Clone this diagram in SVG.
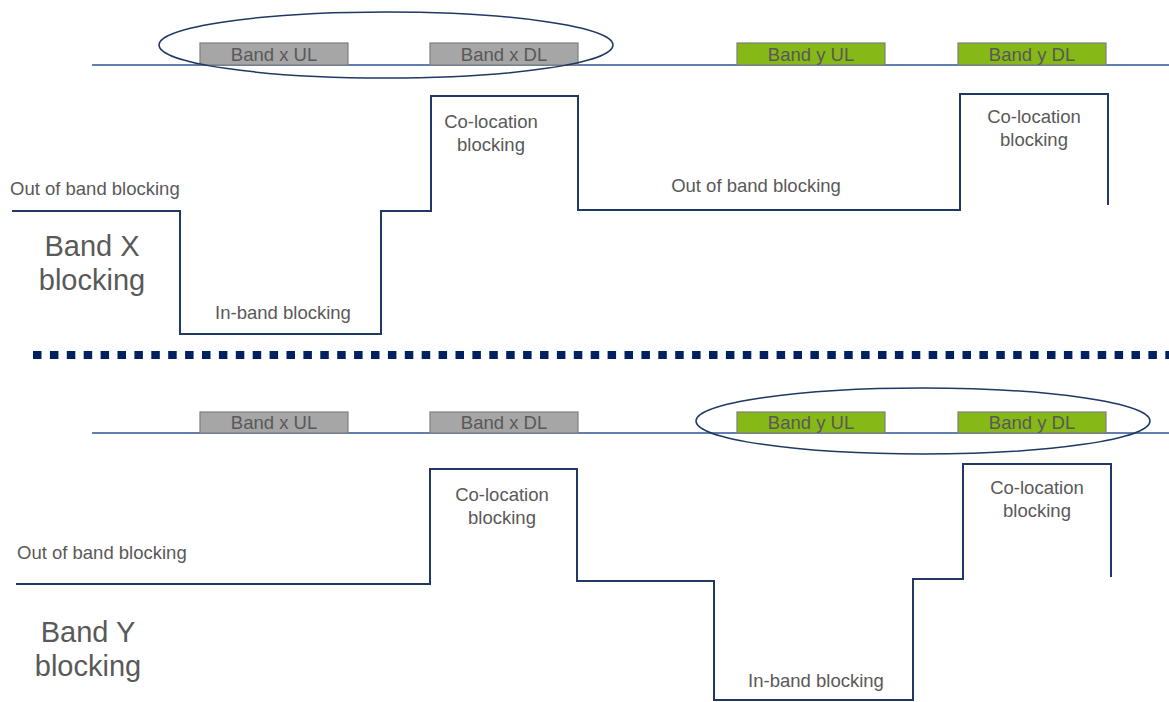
<svg xmlns="http://www.w3.org/2000/svg" width="1169" height="702" viewBox="0 0 1169 702">
  <style>
    .axis { stroke: #2f5597; stroke-width: 1.6; fill: none; }
    .step { stroke: #203864; stroke-width: 2; fill: none; stroke-linejoin: miter; }
    .ring { stroke: #1f3864; stroke-width: 1.5; fill: none; }
    .band-x { fill: #a6a6a6; stroke: #7f7f7f; stroke-width: 1.2; }
    .band-y { fill: #86b817; stroke: #7f7f7f; stroke-width: 1.2; }
    .lbl { font-family: "Liberation Sans", Arial, sans-serif; font-size: 18.5px; fill: #595959; }
    .big { font-family: "Liberation Sans", Arial, sans-serif; font-size: 29px; fill: #595959; text-anchor: middle; }
    .mid { text-anchor: middle; }
    .sep { stroke: #002060; stroke-width: 8; stroke-dasharray: 8.5 8.4; fill: none; }
  </style>

  <!-- Upper panel: Band X blocking -->
  <g id="panel-x">
    <g id="axis-x"><line class="axis" x1="92" y1="65" x2="1169" y2="65"/></g>
    <g id="band-x-ul"><rect class="band-x" x="200" y="43" width="148" height="22"/><text class="lbl mid" x="274" y="61">Band x UL</text></g>
    <g id="band-x-dl"><rect class="band-x" x="430" y="43" width="148" height="22"/><text class="lbl mid" x="504" y="61">Band x DL</text></g>
    <g id="band-y-ul-top"><rect class="band-y" x="737" y="43" width="148" height="22"/><text class="lbl mid" x="811" y="61">Band y UL</text></g>
    <g id="band-y-dl-top"><rect class="band-y" x="958" y="43" width="148" height="22"/><text class="lbl mid" x="1032" y="61">Band y DL</text></g>
    <g id="ring-x"><ellipse class="ring" cx="386" cy="45" rx="227" ry="33"/></g>
    <g id="title-x">
      <text class="big" x="92" y="256">Band X</text>
      <text class="big" x="92" y="290">blocking</text>
    </g>
    <g id="labels-x">
      <text class="lbl" x="10" y="195">Out of band blocking</text>
      <text class="lbl mid" x="283" y="319">In-band blocking</text>
      <text class="lbl mid" x="491" y="128">Co-location</text>
      <text class="lbl mid" x="491" y="151">blocking</text>
      <text class="lbl mid" x="756" y="192">Out of band blocking</text>
      <text class="lbl mid" x="1034" y="123">Co-location</text>
      <text class="lbl mid" x="1034" y="146">blocking</text>
    </g>
  </g>

  <!-- Divider between panels -->
  <g id="divider"><line class="sep" x1="33" y1="355" x2="1169" y2="355"/></g>

  <!-- Lower panel: Band Y blocking -->
  <g id="panel-y">
    <g id="axis-y"><line class="axis" x1="92" y1="433" x2="1169" y2="433"/></g>
    <g id="band-x-ul-bottom"><rect class="band-x" x="200" y="412" width="148" height="21"/><text class="lbl mid" x="274" y="429">Band x UL</text></g>
    <g id="band-x-dl-bottom"><rect class="band-x" x="430" y="412" width="148" height="21"/><text class="lbl mid" x="504" y="429">Band x DL</text></g>
    <g id="band-y-ul"><rect class="band-y" x="737" y="412" width="148" height="21"/><text class="lbl mid" x="811" y="429">Band y UL</text></g>
    <g id="band-y-dl"><rect class="band-y" x="958" y="412" width="148" height="21"/><text class="lbl mid" x="1032" y="429">Band y DL</text></g>
    <g id="ring-y"><ellipse class="ring" cx="923" cy="421" rx="227" ry="33"/></g>
    <g id="title-y">
      <text class="big" x="88" y="642">Band Y</text>
      <text class="big" x="88" y="676">blocking</text>
    </g>
    <g id="labels-y">
      <text class="lbl" x="17" y="559">Out of band blocking</text>
      <text class="lbl mid" x="502" y="501">Co-location</text>
      <text class="lbl mid" x="502" y="524">blocking</text>
      <text class="lbl mid" x="816" y="687">In-band blocking</text>
      <text class="lbl mid" x="1037" y="494">Co-location</text>
      <text class="lbl mid" x="1037" y="517">blocking</text>
    </g>
  </g>

  <!-- Blocking level profiles -->
  <g id="connectors">
    <polyline class="step" points="12,211 180,211 180,334 381,334 381,211 431,211 431,96 578,96 578,210 960,210 960,94 1108,94 1108,205"/>
    <polyline class="step" points="16,584 430,584 430,469 577,469 577,581 714,581 714,700 913,700 913,579 963,579 963,464 1111,464 1111,577"/>
  </g>
</svg>
